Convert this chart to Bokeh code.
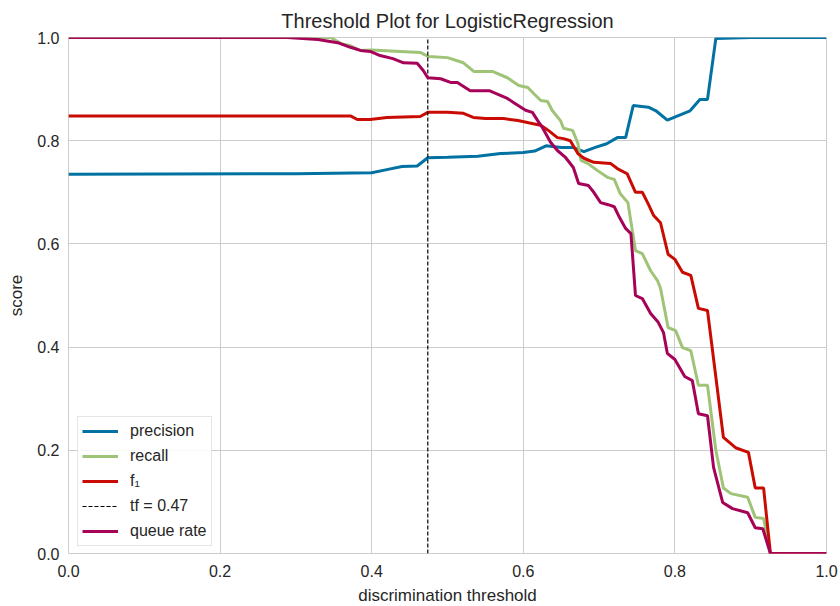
from bokeh.plotting import figure
from bokeh.models import Legend, LegendItem, FixedTicker, PrintfTickFormatter
from bokeh.embed import file_html
from bokeh.resources import INLINE

# ---- data ----
precision_x = [0.0, 0.30, 0.40, 0.42, 0.44, 0.46, 0.474, 0.50, 0.54, 0.57, 0.60, 0.615, 0.63,
               0.65, 0.665, 0.68, 0.695, 0.71, 0.724, 0.735, 0.745, 0.765, 0.775, 0.79, 0.82,
               0.833, 0.843, 0.854, 0.90, 1.0]
precision_y = [0.735, 0.736, 0.738, 0.744, 0.750, 0.751, 0.767, 0.768, 0.770, 0.775, 0.777, 0.780,
               0.790, 0.787, 0.787, 0.779, 0.787, 0.794, 0.806, 0.806, 0.868, 0.865, 0.858, 0.840,
               0.858, 0.880, 0.880, 0.998, 1.0, 1.0]

recall_x = [0.0, 0.346, 0.36, 0.372, 0.385, 0.40, 0.438, 0.464, 0.475, 0.50, 0.521, 0.535, 0.56,
            0.579, 0.594, 0.606, 0.614, 0.623, 0.632, 0.638, 0.649, 0.653, 0.665, 0.672, 0.676,
            0.685, 0.698, 0.711, 0.72, 0.728, 0.738, 0.748, 0.757, 0.768, 0.777, 0.781, 0.791,
            0.801, 0.81, 0.821, 0.831, 0.843, 0.854, 0.864, 0.874, 0.896, 0.906, 0.917, 0.926, 1.0]
recall_y = [1.0, 1.0, 0.988, 0.984, 0.975, 0.976, 0.973, 0.971, 0.963, 0.961, 0.951, 0.934, 0.934,
            0.922, 0.907, 0.903, 0.891, 0.878, 0.876, 0.859, 0.839, 0.824, 0.820, 0.795, 0.762,
            0.756, 0.742, 0.729, 0.725, 0.697, 0.680, 0.587, 0.581, 0.548, 0.529, 0.514, 0.438,
            0.432, 0.399, 0.393, 0.326, 0.326, 0.200, 0.127, 0.116, 0.109, 0.070, 0.068, 0.0, 0.0]

f1_x = [0.0, 0.372, 0.381, 0.398, 0.42, 0.464, 0.474, 0.50, 0.521, 0.534, 0.55, 0.574, 0.593,
        0.613, 0.623, 0.633, 0.645, 0.653, 0.662, 0.672, 0.68, 0.693, 0.715, 0.724, 0.737,
        0.748, 0.757, 0.764, 0.772, 0.781, 0.791, 0.80, 0.81, 0.821, 0.831, 0.843, 0.864,
        0.88, 0.897, 0.906, 0.917, 0.926, 1.0]
f1_y = [0.848, 0.848, 0.841, 0.841, 0.845, 0.847, 0.855, 0.855, 0.853, 0.845, 0.843, 0.843, 0.839,
        0.833, 0.830, 0.820, 0.806, 0.804, 0.800, 0.775, 0.766, 0.758, 0.756, 0.746, 0.736,
        0.700, 0.700, 0.680, 0.655, 0.641, 0.580, 0.570, 0.545, 0.539, 0.475, 0.471, 0.225,
        0.205, 0.196, 0.127, 0.127, 0.0, 0.0]

queue_x = [0.0, 0.289, 0.329, 0.355, 0.372, 0.385, 0.398, 0.411, 0.428, 0.442, 0.46, 0.468, 0.474,
           0.491, 0.504, 0.513, 0.53, 0.555, 0.579, 0.587, 0.603, 0.612, 0.619, 0.625, 0.636,
           0.645, 0.656, 0.666, 0.673, 0.686, 0.693, 0.702, 0.712, 0.72, 0.727, 0.735, 0.742,
           0.748, 0.757, 0.768, 0.778, 0.785, 0.79, 0.80, 0.813, 0.823, 0.831, 0.843, 0.851,
           0.863, 0.876, 0.896, 0.906, 0.916, 0.926, 1.0]
queue_y = [1.0, 1.0, 0.996, 0.990, 0.981, 0.975, 0.973, 0.965, 0.959, 0.951, 0.950, 0.936, 0.922,
           0.920, 0.913, 0.913, 0.897, 0.897, 0.882, 0.874, 0.859, 0.855, 0.839, 0.826, 0.797,
           0.781, 0.767, 0.748, 0.717, 0.713, 0.700, 0.680, 0.676, 0.672, 0.651, 0.630, 0.620,
           0.500, 0.494, 0.465, 0.448, 0.428, 0.388, 0.376, 0.343, 0.335, 0.271, 0.267, 0.167,
           0.099, 0.087, 0.079, 0.050, 0.048, 0.0, 0.0]

threshold = 0.474
threshold_label = "tf = 0.47"
score_limits = [0.0, 1.0]
ticks = [0.0, 0.2, 0.4, 0.6, 0.8, 1.0]

FONT = "Liberation Sans"
TXT = "#262626"

p = figure(frame_width=758, frame_height=516, x_range=(0, 1), y_range=(0, 1),
           output_backend="svg", toolbar_location=None,
           min_border_left=68, min_border_right=14, min_border_top=37, min_border_bottom=53,
           title="Threshold Plot for LogisticRegression")
p.title.align = "center"
p.title.text_font = FONT
p.title.text_font_size = "20px"
p.title.text_font_style = "normal"
p.title.text_color = TXT
p.title.standoff = 11

p.background_fill_color = "white"
p.border_fill_color = "white"
p.outline_line_color = "#cccccc"
p.outline_line_width = 1

for ax in (p.xaxis[0], p.yaxis[0]):
    ax.ticker = FixedTicker(ticks=ticks)
    ax.formatter = PrintfTickFormatter(format="%.1f")
    ax.axis_line_color = None
    ax.major_tick_line_color = None
    ax.minor_tick_line_color = None
    ax.major_tick_out = 0
    ax.major_tick_in = 0
    ax.major_label_text_font = FONT
    ax.major_label_text_font_size = "16px"
    ax.major_label_text_color = TXT
    ax.axis_label_text_font = FONT
    ax.axis_label_text_font_size = "17px"
    ax.axis_label_text_font_style = "normal"
    ax.axis_label_text_color = TXT

p.xaxis.axis_label = "discrimination threshold"
p.yaxis.axis_label = "score"
p.xaxis.major_label_standoff = 11
p.yaxis.major_label_standoff = 9
p.xaxis.axis_label_standoff = 6
p.yaxis.axis_label_standoff = 8

p.xgrid.grid_line_color = "#cccccc"
p.ygrid.grid_line_color = "#cccccc"
p.xgrid.ticker = FixedTicker(ticks=ticks)
p.ygrid.ticker = FixedTicker(ticks=ticks)

lw = 3
r_prec = p.line(precision_x, precision_y, line_color="#0272a2", line_width=lw)
r_rec = p.line(recall_x, recall_y, line_color="#9fc377", line_width=lw)
r_f1 = p.line(f1_x, f1_y, line_color="#ca0b03", line_width=lw)
r_thr = p.line([threshold, threshold], score_limits, line_color="black", line_width=1.2,
               line_dash="4 2")
r_q = p.line(queue_x, queue_y, line_color="#a50258", line_width=lw)

legend = Legend(items=[
    LegendItem(label="precision", renderers=[r_prec]),
    LegendItem(label="recall", renderers=[r_rec]),
    LegendItem(label="f₁", renderers=[r_f1]),
    LegendItem(label=threshold_label, renderers=[r_thr]),
    LegendItem(label="queue rate", renderers=[r_q]),
], location=(9, 7))
legend.label_text_font = FONT
legend.label_text_font_size = "16px"
legend.label_text_color = TXT
legend.glyph_width = 36
legend.glyph_height = 20
legend.label_height = 20
legend.spacing = 5
legend.padding = 4
legend.label_standoff = 12
legend.margin = 0
legend.border_line_color = "#cccccc"
legend.background_fill_alpha = 0.85
p.add_layout(legend)

open("out.html", "w").write(file_html(p, INLINE))
